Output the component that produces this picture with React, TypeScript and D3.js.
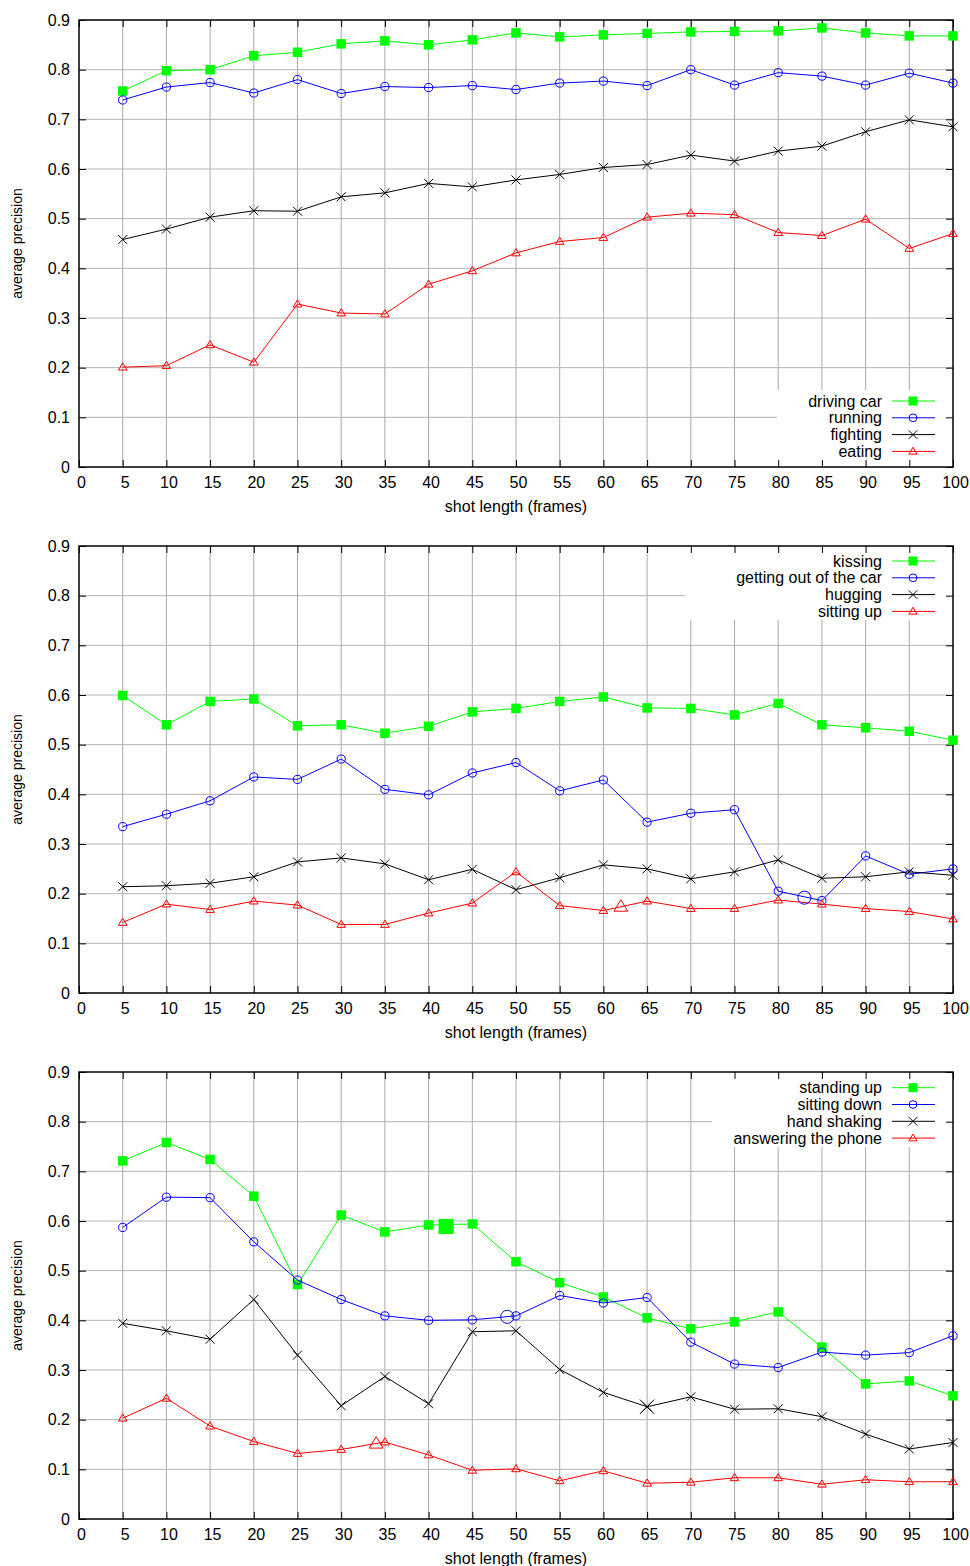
import React, { useEffect, useRef } from "react";
import * as d3 from "d3";

// x values (shot length in frames)
const shotLengths = [5, 10, 15, 20, 25, 30, 35, 40, 45, 50, 55, 60, 65, 70, 75, 80, 85, 90, 95, 100];
const xTicks = [0, 5, 10, 15, 20, 25, 30, 35, 40, 45, 50, 55, 60, 65, 70, 75, 80, 85, 90, 95, 100];
const yTicks = [0, 0.1, 0.2, 0.3, 0.4, 0.5, 0.6, 0.7, 0.8, 0.9];
const yTickLabels = ["0", "0.1", "0.2", "0.3", "0.4", "0.5", "0.6", "0.7", "0.8", "0.9"];

// panel 1
const drivingCar = [0.757, 0.798, 0.8, 0.828, 0.835, 0.852, 0.858, 0.85, 0.86, 0.874, 0.866, 0.87, 0.873, 0.876, 0.877, 0.878, 0.884, 0.874, 0.868, 0.868];
const running = [0.739, 0.765, 0.774, 0.753, 0.78, 0.752, 0.766, 0.764, 0.768, 0.76, 0.773, 0.777, 0.768, 0.8, 0.769, 0.794, 0.787, 0.769, 0.793, 0.773];
const fighting = [0.458, 0.479, 0.503, 0.516, 0.515, 0.544, 0.552, 0.571, 0.564, 0.578, 0.589, 0.603, 0.609, 0.628, 0.616, 0.636, 0.646, 0.675, 0.699, 0.685];
const eating = [0.201, 0.204, 0.246, 0.211, 0.328, 0.31, 0.308, 0.368, 0.395, 0.431, 0.454, 0.462, 0.503, 0.511, 0.508, 0.472, 0.466, 0.499, 0.44, 0.47];

// panel 2
const kissing = [0.599, 0.54, 0.587, 0.592, 0.538, 0.54, 0.523, 0.537, 0.566, 0.573, 0.587, 0.596, 0.574, 0.573, 0.56, 0.583, 0.54, 0.534, 0.527, 0.509];
const gettingOutOfCar = [0.335, 0.36, 0.387, 0.435, 0.43, 0.471, 0.41, 0.399, 0.443, 0.464, 0.407, 0.429, 0.344, 0.362, 0.369, 0.205, 0.186, 0.276, 0.239, 0.25];
const hugging = [0.214, 0.216, 0.221, 0.234, 0.264, 0.272, 0.26, 0.228, 0.249, 0.208, 0.232, 0.258, 0.25, 0.23, 0.244, 0.268, 0.231, 0.234, 0.244, 0.237];
const sittingUp = [0.142, 0.179, 0.168, 0.185, 0.177, 0.138, 0.138, 0.161, 0.181, 0.244, 0.176, 0.166, 0.185, 0.17, 0.17, 0.187, 0.179, 0.17, 0.164, 0.149];

// panel 3
const standingUp = [0.721, 0.758, 0.724, 0.65, 0.472, 0.612, 0.578, 0.592, 0.594, 0.518, 0.476, 0.447, 0.405, 0.383, 0.397, 0.417, 0.346, 0.272, 0.278, 0.248];
const sittingDown = [0.587, 0.648, 0.647, 0.558, 0.481, 0.442, 0.409, 0.4, 0.401, 0.409, 0.45, 0.435, 0.446, 0.356, 0.312, 0.305, 0.336, 0.33, 0.335, 0.369];
const handShaking = [0.394, 0.379, 0.362, 0.442, 0.33, 0.228, 0.287, 0.232, 0.377, 0.379, 0.301, 0.255, 0.226, 0.246, 0.221, 0.222, 0.206, 0.171, 0.141, 0.154];
const answeringPhone = [0.203, 0.243, 0.187, 0.156, 0.132, 0.14, 0.155, 0.129, 0.098, 0.101, 0.077, 0.097, 0.072, 0.074, 0.083, 0.083, 0.07, 0.079, 0.075, 0.075];

// stray enlarged markers visible in the figure: [series index, x, y]
const highlights2: [number, number, number][] = [[1, 83, 0.192], [3, 62, 0.174]];
const highlights3: [number, number, number][] = [[0, 42, 0.589], [1, 49, 0.407], [2, 65, 0.226], [3, 34, 0.152]];

const colors = ["#00ff00", "#0000ff", "#000000", "#ff0000"];
const FONT = "'Liberation Sans', Arial, Helvetica, sans-serif";

const panels = [
  { top: 20, names: ["driving car", "running", "fighting", "eating"], series: [drivingCar, running, fighting, eating], hl: [] as [number, number, number][], box: { x0: 777, y0: 370, y1: 447 }, row0: 381 },
  { top: 546, names: ["kissing", "getting out of the car", "hugging", "sitting up"], series: [kissing, gettingOutOfCar, hugging, sittingUp], hl: highlights2, box: { x0: 685, y0: 0, y1: 74 }, row0: 15 },
  { top: 1072, names: ["standing up", "sitting down", "hand shaking", "answering the phone"], series: [standingUp, sittingDown, handShaking, answeringPhone], hl: highlights3, box: { x0: 712, y0: 0, y1: 75 }, row0: 15.7 },
];

function marker(g: any, kind: number, cx: number, cy: number, scale = 1) {
  if (kind === 0) {
    const s = 9.5 * scale;
    g.append("rect").attr("x", cx - s / 2).attr("y", cy - s / 2).attr("width", s).attr("height", s).attr("fill", colors[0]);
  } else if (kind === 1) {
    g.append("circle").attr("cx", cx).attr("cy", cy).attr("r", 4.1 * scale).attr("fill", "none").attr("stroke", colors[1]).attr("stroke-width", 1);
  } else if (kind === 2) {
    const h = 4.5 * scale;
    g.append("path").attr("d", `M${cx - h},${cy - h}L${cx + h},${cy + h}M${cx - h},${cy + h}L${cx + h},${cy - h}`).attr("stroke", colors[2]).attr("stroke-width", 1).attr("fill", "none");
  } else {
    const w = 4.3 * scale;
    const h = 7.2 * scale;
    g.append("path").attr("d", `M${cx - w},${cy + h * 0.4}L${cx + w},${cy + h * 0.4}L${cx},${cy - h * 0.6}Z`).attr("stroke", colors[3]).attr("stroke-width", 1).attr("fill", "none");
  }
}

export default function App() {
  const ref = useRef<SVGSVGElement>(null);

  useEffect(() => {
    const svg = d3.select(ref.current);
    svg.selectAll("*").remove();
    const plotH = 447;
    const x = d3.scaleLinear().domain([0, 100]).range([79, 953]);
    const y = d3.scaleLinear().domain([0, 0.9]).range([plotH, 0]);

    panels.forEach((p) => {
      const g = svg.append("g").attr("transform", `translate(0,${p.top})`);

      // grid
      g.selectAll(".vgrid").data(xTicks.slice(1, -1)).enter().append("line")
        .attr("x1", (d) => x(d)).attr("x2", (d) => x(d)).attr("y1", 0).attr("y2", plotH)
        .attr("stroke", "#a8a8a8").attr("stroke-width", 1);
      g.selectAll(".hgrid").data(yTicks.slice(1, -1)).enter().append("line")
        .attr("x1", 79).attr("x2", 953).attr("y1", (d) => y(d)).attr("y2", (d) => y(d))
        .attr("stroke", "#b4b4b4").attr("stroke-width", 1);

      // opaque key box
      g.append("rect").attr("x", p.box.x0).attr("y", p.box.y0).attr("width", 953 - p.box.x0).attr("height", p.box.y1 - p.box.y0).attr("fill", "#fff");

      // axes (inward ticks on all four sides)
      const bottom = g.append("g").attr("transform", `translate(0,${plotH})`)
        .call(d3.axisBottom(x).tickValues(xTicks).tickSize(-7).tickPadding(10).tickFormat((d: any) => String(d)));
      const left = g.append("g").attr("transform", "translate(79,0)")
        .call(d3.axisLeft(y).tickValues(yTicks).tickSize(-7).tickPadding(9).tickFormat((d: any, i: number) => yTickLabels[i]));
      const top = g.append("g").call(d3.axisTop(x).tickValues(xTicks).tickSize(-7).tickFormat(() => ""));
      const right = g.append("g").attr("transform", "translate(953,0)")
        .call(d3.axisRight(y).tickValues(yTicks).tickSize(-7).tickFormat(() => ""));
      [bottom, left, top, right].forEach((a) => {
        a.select(".domain").remove();
        a.selectAll("line").attr("stroke", "#000");
        a.selectAll("text").attr("fill", "#000").style("font-family", FONT).style("font-size", "16px");
      });
      bottom.selectAll("text").attr("dx", 2);

      g.append("rect").attr("x", 79).attr("y", 0).attr("width", 874).attr("height", plotH)
        .attr("fill", "none").attr("stroke", "#000").attr("stroke-width", 1.5);

      // series
      const line = d3.line<number>().x((d, i) => x(shotLengths[i])).y((d) => y(d));
      p.series.forEach((vals, k) => {
        g.append("path").datum(vals).attr("d", line).attr("fill", "none").attr("stroke", colors[k]).attr("stroke-width", 1);
        vals.forEach((v, i) => marker(g, k, x(shotLengths[i]), y(v)));
      });
      p.hl.forEach(([k, hx, hy]) => marker(g, k, x(hx), y(hy), 1.6));

      // legend
      p.names.forEach((name, k) => {
        const ry = p.row0 + k * 16.8;
        g.append("text").attr("x", 882).attr("y", ry).attr("dy", "0.35em").attr("text-anchor", "end")
          .style("font-family", FONT).style("font-size", "16px").text(name);
        g.append("line").attr("x1", 892).attr("x2", 935).attr("y1", ry).attr("y2", ry).attr("stroke", colors[k]).attr("stroke-width", 1);
        marker(g, k, 913, ry, 0.95);
      });

      // axis titles
      g.append("text").attr("x", 516).attr("y", plotH + 45).attr("text-anchor", "middle")
        .style("font-family", FONT).style("font-size", "16px").text("shot length (frames)");
      g.append("text").attr("transform", `translate(22,${plotH / 2}) rotate(-90)`).attr("text-anchor", "middle")
        .style("font-family", FONT).style("font-size", "14px").text("average precision");
    });
  }, []);

  return (
    <svg ref={ref} width={970} height={1566} style={{ position: "absolute", left: 0, top: 0, background: "#fff" }} />
  );
}
